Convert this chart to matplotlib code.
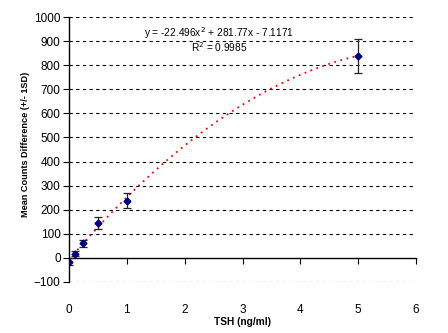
import matplotlib
matplotlib.use("Agg")
import matplotlib.pyplot as plt
import numpy as np

plt.rcParams['font.family'] = ['Liberation Sans', 'DejaVu Sans']

tsh = [0, 0.1, 0.25, 0.5, 1, 5]
mean_diff = [-15, 17, 61, 146, 238, 838]
sd = [15, 10, 15, 24, 30, 72]
coef = [-22.496, 281.77, -7.1171]
x_ticks = [0, 1, 2, 3, 4, 5, 6]
y_ticks = list(range(-100, 1001, 100))

fig = plt.figure(figsize=(4.48, 3.33), dpi=100)
ax = fig.add_axes([69/448, 51/333, (416-69)/448, (282-17)/333])
ax.set_xlim(0, 6)
ax.set_ylim(-100, 1000)

for yv in y_ticks:
    if yv != 0:
        ax.axhline(yv, color='black', lw=0.8, ls=(0, (3, 3)), zorder=1)

xf = np.linspace(0, 5, 200)
ax.plot(xf, np.polyval(coef, xf), color='red', lw=1.3, ls=(0, (1, 2.5)), zorder=2)

ax.errorbar(tsh, mean_diff, yerr=sd, fmt='D', color='#000080', ms=3.5,
            ecolor='#222222', elinewidth=0.9, capsize=3, capthick=0.9, zorder=3)

ax.spines['top'].set_visible(False)
ax.spines['right'].set_visible(False)
ax.spines['bottom'].set_position(('data', 0))
ax.spines['bottom'].set_linewidth(1.0)
ax.spines['left'].set_linewidth(1.0)

ax.set_xticks(x_ticks)
ax.set_yticks(y_ticks)
ax.tick_params(axis='x', direction='out', length=4, pad=29, labelsize=8.5)
ax.tick_params(axis='y', direction='out', length=4, pad=2, labelsize=8.5)

ax.text(2.6, 906, 'y = -22.496x$^2$ + 281.77x - 7.1171\nR$^2$ = 0.9985',
        ha='center', va='center', fontsize=7.3, linespacing=1.0)

fig.text(25/448, 1 - 144/333, 'Mean Counts Difference (+/- 1SD)', rotation=90,
         ha='center', va='center', fontsize=6.6, fontweight='bold')
fig.text(242/448, 1 - 322/333, 'TSH (ng/ml)', ha='center', va='center', fontsize=7.3, fontweight='bold')

fig.savefig('out.png', dpi=100)
